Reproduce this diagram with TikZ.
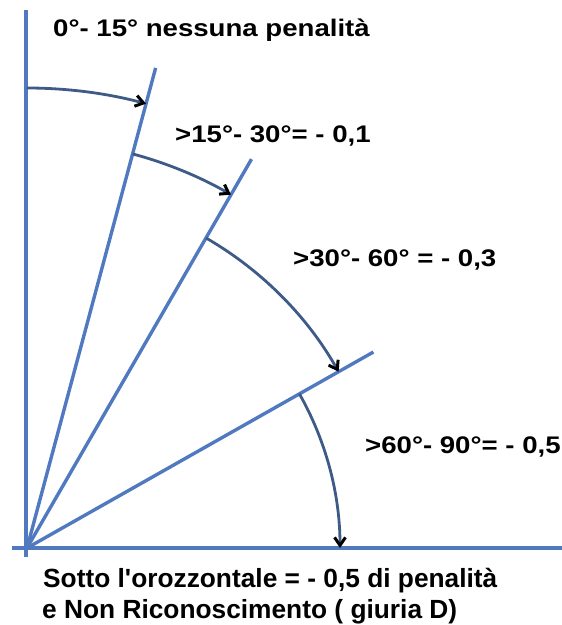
\documentclass[tikz,border=0pt]{standalone}
\usepackage{fontspec}
\setmainfont{Liberation Sans}
\usepackage{xcolor}
\usetikzlibrary{arrows.meta, positioning}

\definecolor{raggio}{HTML}{5079C0}
\definecolor{arco}{HTML}{3E5A86}

\newcommand{\largo}[1]{\scalebox{1.15}[1]{#1}}

\begin{document}
\begin{tikzpicture}[
    x=1pt, y=1pt,
    axis/.style={raggio, line width=3.4pt},
    ray/.style={raggio, line width=3.4pt},
    swing/.style={arco, line width=2.8pt, -{Straight Barb[black, length=8pt, width=11pt, line width=3pt]}},
    lab/.style={anchor=base west, inner sep=0pt, font=\bfseries\fontsize{24}{28}\selectfont},
    note/.style={anchor=base west, inner sep=0pt, font=\bfseries\fontsize{26.3}{31}\selectfont}
]
    \useasboundingbox (-27,-77) rectangle (535,548);

    \coordinate (O) at (0,0);
    \coordinate (top) at (-1,538);
    \coordinate (bot) at (-1,-9);
    \coordinate (west) at (-15,0);
    \coordinate (east) at (536,0);
    \coordinate (r15) at (75:497);
    \coordinate (r30) at (60:449);
    \coordinate (r60) at (29.5:398);

    % assi
    \draw[axis] (bot) -- (top);
    \draw[axis] (west) -- (east);

    % raggi
    \draw[ray] (O) -- (r15);
    \draw[ray] (O) -- (r30);
    \draw[ray] (O) -- (r60);

    % archi
    \draw[swing] (90:460) arc[start angle=90, end angle=75, radius=460];
    \draw[swing] (75:408) arc[start angle=75, end angle=60, radius=408];
    \draw[swing] (60:358) arc[start angle=60, end angle=29.5, radius=358];
    \draw[swing] (29.5:313) arc[start angle=29.5, end angle=0, radius=313];

    % testi
    \node[lab] (t0) at (26,511) {\largo{0°- 15° nessuna penalità}};
    \node[lab] (t15) at (148,405) {\largo{>15°- 30°= - 0,1}};
    \node[lab] (t30) at (266,281) {\largo{>30°- 60° = - 0,3}};
    \node[lab] (t60) at (338,95) {\largo{>60°- 90°= - 0,5}};
    \node[note] (n1) at (16,-39) {Sotto l\textquotesingle orozzontale = - 0,5 di penalità};
    \node[note] (n2) at (15,-70) {e Non Riconoscimento ( giuria D)};
\end{tikzpicture}
\end{document}
